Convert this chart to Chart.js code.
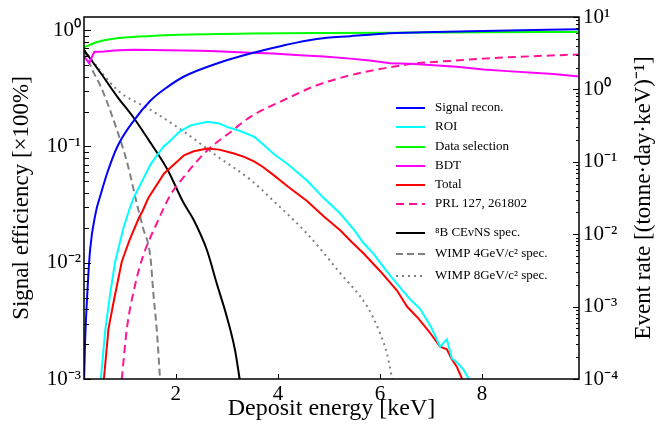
<!DOCTYPE html>
<html>
<head>
<meta charset="utf-8">
<script src="https://cdn.jsdelivr.net/npm/chart.js@4"></script>
<style>
  html, body { margin: 0; padding: 0; background: #fff; }
</style>
</head>
<body>
<canvas id="myChart" width="667" height="425"></canvas>
<script>
// values, energy in keV
// efficiencies (left axis)
var reconE = [0.2, 0.22, 0.27, 0.32, 0.43, 0.53, 0.66, 0.855, 1.18, 1.51, 1.84, 2.16, 2.82, 3.46, 4.11, 4.76, 5.42, 6.07, 6.85, 8.03, 9.9];
var reconEff = [0.0009, 0.002, 0.006, 0.013, 0.027, 0.039, 0.06, 0.1, 0.168, 0.25, 0.326, 0.4, 0.52, 0.63, 0.74, 0.84, 0.89, 0.935, 0.96, 0.985, 1.02];

var roiE = [0.53, 0.62, 0.71, 0.81, 0.97, 1.08, 1.17, 1.51, 1.76, 1.9, 2.08, 2.29, 2.62, 2.85, 3.01, 3.26, 3.54, 3.7, 3.91, 4.2, 4.57, 4.9, 5.22, 5.5, 5.68, 5.87, 6.1, 6.33, 6.6, 6.79, 7.0, 7.18, 7.31, 7.41, 7.5, 7.64, 7.74];
var roiEff = [0.001, 0.0027, 0.0053, 0.0102, 0.0197, 0.028, 0.036, 0.071, 0.1, 0.113, 0.135, 0.152, 0.163, 0.158, 0.147, 0.136, 0.121, 0.105, 0.087, 0.07, 0.051, 0.036, 0.0265, 0.019, 0.0147, 0.012, 0.0088, 0.0066, 0.0048, 0.004, 0.0028, 0.0019, 0.0022, 0.0015, 0.0014, 0.0012, 0.001];

var selE = [0.2, 0.3, 0.38, 0.5, 0.71, 1.0, 1.43, 2.08, 3.46, 5.0, 6.85, 8.0, 9.9];
var selEff = [0.71, 0.745, 0.77, 0.80, 0.835, 0.865, 0.89, 0.915, 0.936, 0.947, 0.955, 0.96, 0.965];

var bdtE = [0.2, 0.3, 0.4, 0.6, 0.8, 1.0, 1.18, 1.5, 2.16, 2.48, 2.8, 3.46, 3.9, 4.44, 4.9, 5.42, 5.8, 6.2, 6.6, 7.05, 7.5, 8.03, 8.5, 9.0, 9.4, 9.9];
var bdtEff = [0.6, 0.52, 0.65, 0.655, 0.67, 0.675, 0.68, 0.675, 0.67, 0.665, 0.66, 0.64, 0.63, 0.61, 0.595, 0.57, 0.55, 0.52, 0.515, 0.5, 0.485, 0.46, 0.445, 0.43, 0.42, 0.4];

var totalE = [0.59, 0.68, 0.78, 0.94, 1.1, 1.27, 1.35, 1.46, 1.77, 2.16, 2.35, 2.62, 2.85, 3.14, 3.35, 3.54, 3.7, 3.91, 4.2, 4.57, 4.9, 5.22, 5.45, 5.68, 6.0, 6.33, 6.53, 6.73, 6.95, 7.18, 7.31, 7.4, 7.51, 7.61];
var totalEff = [0.001, 0.0027, 0.0046, 0.0102, 0.016, 0.024, 0.028, 0.036, 0.0586, 0.084, 0.091, 0.096, 0.094, 0.087, 0.081, 0.074, 0.067, 0.057, 0.045, 0.034, 0.025, 0.019, 0.015, 0.012, 0.0085, 0.0058, 0.0042, 0.0034, 0.0026, 0.0019, 0.0018, 0.0015, 0.00126, 0.001];

var prlE = [0.94, 1.04, 1.2, 1.36, 1.63, 1.89, 2.16, 2.62, 3.08, 3.46, 4.11, 4.76, 5.42, 6.07, 6.73, 7.38, 8.03, 8.69, 9.9];
var prlEff = [0.001, 0.0027, 0.0064, 0.0115, 0.022, 0.038, 0.055, 0.093, 0.134, 0.18, 0.25, 0.336, 0.41, 0.47, 0.52, 0.545, 0.57, 0.59, 0.62];

// spectra (right axis)
var b8E = [0.2, 0.53, 0.855, 1.18, 1.51, 1.84, 2.14, 2.35, 2.61, 2.8, 3.0, 3.16, 3.25];
var b8Rate = [3.5, 1.67, 0.79, 0.4, 0.18, 0.077, 0.028, 0.0157, 0.006, 0.0021, 0.00072, 0.00025, 0.0001];

var wimp4E = [0.2, 0.38, 0.53, 0.85, 1.05, 1.25, 1.36, 1.5, 1.56, 1.63, 1.69];
var wimp4Rate = [3.5, 1.76, 1.09, 0.27, 0.095, 0.024, 0.012, 0.0049, 0.0015, 0.00044, 0.0001];

var wimp8E = [0.2, 0.855, 1.51, 2.16, 2.82, 3.47, 3.91, 4.57, 5.22, 5.75, 6.0, 6.14, 6.24];
var wimp8Rate = [3.5, 0.98, 0.52, 0.26, 0.118, 0.056, 0.029, 0.0102, 0.0029, 0.001, 0.00043, 0.00022, 0.0001];

var xTicks = [2, 4, 6, 8];
var leftDecades = [0.001, 0.01, 0.1, 1];
var rightDecades = [0.0001, 0.001, 0.01, 0.1, 1, 10];

var serif = 'Liberation Serif';
var supMap = { '0': '\u2070', '1': '\u00b9', '2': '\u00b2', '3': '\u00b3', '4': '\u2074', '-': '\u207b' };

function powLabel(v) {
    var e = Math.round(Math.log10(v));
    return '10' + String(e).split('').map(function(c) { return supMap[c]; }).join('');
}

function pts(xs, ys) {
    return xs.map(function(x, i) { return { x: x, y: ys[i] }; });
}

// tick marks pointing inward + frame, like matplotlib
function logMarks(min, max) {
    var out = [];
    for (var e = Math.floor(Math.log10(min)); e <= Math.ceil(Math.log10(max)); e++) {
        for (var m = 1; m <= 9; m++) {
            var v = m * Math.pow(10, e);
            if (v >= min * 0.9999 && v <= max * 1.0001) out.push({ v: v, major: m === 1 });
        }
    }
    return out;
}

var frameTicks = {
    id: 'frameTicks',
    afterDatasetsDraw: function(chart) {
        var ctx = chart.ctx, a = chart.chartArea;
        var sx = chart.scales.x, sy = chart.scales.y, sr = chart.scales.y2;
        ctx.save();
        ctx.strokeStyle = '#000';
        ctx.lineWidth = 1;
        ctx.beginPath();
        logMarks(sy.min, sy.max).forEach(function(t) {
            var y = Math.round(sy.getPixelForValue(t.v)) + 0.5;
            ctx.moveTo(a.left, y);
            ctx.lineTo(a.left + (t.major ? 7 : 5), y);
        });
        logMarks(sr.min, sr.max).forEach(function(t) {
            var y = Math.round(sr.getPixelForValue(t.v)) + 0.5;
            ctx.moveTo(a.right, y);
            ctx.lineTo(a.right - (t.major ? 6 : 3), y);
        });
        xTicks.forEach(function(v) {
            var x = Math.round(sx.getPixelForValue(v)) + 0.5;
            ctx.moveTo(x, a.bottom);
            ctx.lineTo(x, a.bottom - 5);
        });
        ctx.stroke();
        ctx.lineWidth = 1.5;
        ctx.strokeRect(a.left, a.top, a.right - a.left, a.bottom - a.top);
        ctx.restore();
    }
};

// legend without box, two groups
var legendRowY = [108, 127, 147, 166, 185, 204, 233, 254, 276];
var sideLegend = {
    id: 'sideLegend',
    afterDraw: function(chart) {
        var ctx = chart.ctx;
        ctx.save();
        ctx.font = '13px "' + serif + '"';
        ctx.textBaseline = 'middle';
        ctx.fillStyle = '#000';
        chart.data.datasets.forEach(function(ds, i) {
            var y = legendRowY[i];
            ctx.strokeStyle = ds.borderColor;
            ctx.lineWidth = 2;
            ctx.setLineDash(ds.borderDash || []);
            ctx.beginPath();
            ctx.moveTo(396, y);
            ctx.lineTo(425, y);
            ctx.stroke();
            ctx.setLineDash([]);
            ctx.fillText(ds.label, 435, y);
        });
        // right axis title reads bottom to top
        ctx.font = '23px "' + serif + '"';
        ctx.textAlign = 'center';
        ctx.translate(644, (chart.chartArea.top + chart.chartArea.bottom) / 2);
        ctx.rotate(-Math.PI / 2);
        ctx.fillText('Event rate [(tonne\u00b7day\u00b7keV)\u207b\u00b9]', 0, 0);
        ctx.restore();
    }
};

window.onload = function() {
    var ctx = document.getElementById('myChart').getContext('2d');
    var myChart = new Chart(ctx, {
        type: 'line',
        data: {
            datasets: [
                { label: 'Signal recon.', data: pts(reconE, reconEff), borderColor: '#0000ff', yAxisID: 'y', cubicInterpolationMode: 'monotone' },
                { label: 'ROI', data: pts(roiE, roiEff), borderColor: '#00ffff', yAxisID: 'y' },
                { label: 'Data selection', data: pts(selE, selEff), borderColor: '#00ff00', yAxisID: 'y', cubicInterpolationMode: 'monotone' },
                { label: 'BDT', data: pts(bdtE, bdtEff), borderColor: '#ff00ff', yAxisID: 'y' },
                { label: 'Total', data: pts(totalE, totalEff), borderColor: '#ff0000', yAxisID: 'y' },
                { label: 'PRL 127, 261802', data: pts(prlE, prlEff), borderColor: '#ff1493', borderDash: [8, 5], yAxisID: 'y', cubicInterpolationMode: 'monotone' },
                { label: '\u2078B CE\u03bdNS spec.', data: pts(b8E, b8Rate), borderColor: '#000000', yAxisID: 'y2', cubicInterpolationMode: 'monotone' },
                { label: 'WIMP 4GeV/c\u00b2 spec.', data: pts(wimp4E, wimp4Rate), borderColor: '#808080', borderDash: [7, 4], yAxisID: 'y2', cubicInterpolationMode: 'monotone' },
                { label: 'WIMP 8GeV/c\u00b2 spec.', data: pts(wimp8E, wimp8Rate), borderColor: '#808080', borderDash: [2, 4], yAxisID: 'y2', cubicInterpolationMode: 'monotone' }
            ]
        },
        options: {
            responsive: false,
            animation: false,
            devicePixelRatio: 1,
            layout: { padding: { top: 17, left: 0, right: 0, bottom: 0 } },
            elements: {
                point: { radius: 0 },
                line: { borderWidth: 2, fill: false }
            },
            plugins: {
                legend: { display: false },
                tooltip: { enabled: false }
            },
            scales: {
                x: {
                    type: 'linear',
                    min: 0.2,
                    max: 9.9,
                    grid: { display: false, drawTicks: false },
                    border: { display: false },
                    afterBuildTicks: function(s) { s.ticks = xTicks.map(function(v) { return { value: v }; }); },
                    afterFit: function(s) { s.height = 46; },
                    ticks: { color: '#000', padding: 3, font: { family: serif, size: 21 }, autoSkip: false, maxRotation: 0 },
                    title: { display: true, text: 'Deposit energy [keV]', color: '#000', font: { family: serif, size: 24 }, padding: { top: 0, bottom: 2 } }
                },
                y: {
                    type: 'logarithmic',
                    position: 'left',
                    min: 0.001,
                    max: 1.3,
                    grid: { display: false, drawTicks: false },
                    border: { display: false },
                    afterBuildTicks: function(s) { s.ticks = leftDecades.map(function(v) { return { value: v }; }); },
                    afterFit: function(s) { s.width = 84; },
                    ticks: { color: '#000', padding: 3, font: { family: serif, size: 21 }, autoSkip: false, callback: powLabel },
                    title: { display: true, text: 'Signal efficiency [\u00d7100%]', color: '#000', font: { family: serif, size: 23 }, padding: { top: 8, bottom: 0 } }
                },
                y2: {
                    type: 'logarithmic',
                    position: 'right',
                    min: 0.0001,
                    max: 10,
                    grid: { display: false, drawTicks: false },
                    border: { display: false },
                    afterBuildTicks: function(s) { s.ticks = rightDecades.map(function(v) { return { value: v }; }); },
                    afterFit: function(s) { s.width = 88; },
                    ticks: { color: '#000', padding: 4, font: { family: serif, size: 21 }, autoSkip: false, callback: powLabel }
                }
            }
        },
        plugins: [frameTicks, sideLegend]
    });
};
</script>
</body>
</html>
